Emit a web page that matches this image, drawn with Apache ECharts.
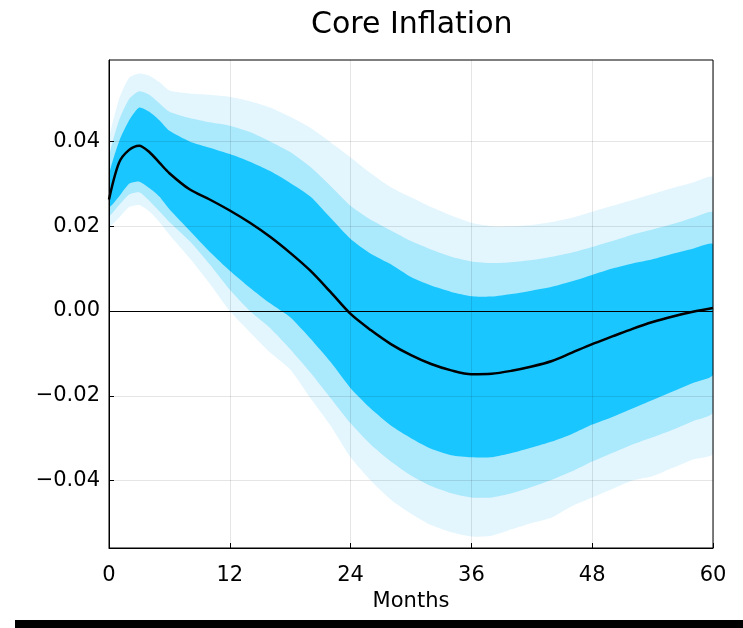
<!DOCTYPE html>
<html><head><meta charset="utf-8">
<script src="https://cdn.jsdelivr.net/npm/echarts@6/dist/echarts.min.js"></script>
<style>html,body{margin:0;padding:0;background:#fff}#c{width:743px;height:628px}</style>
</head><body><div id="c"></div>
<script>
const months = [0,1,2,3,4,5,6,8,10,12,14,16,18,20,22,24,26,28,30,32,34,36,38,40,42,44,46,48,50,52,54,56,58,60];
const median = [0.0263,0.0350,0.0380,0.0390,0.0375,0.0350,0.0325,0.0287,0.0263,0.0237,0.0208,0.0175,0.0137,0.0095,0.0045,-0.0007,-0.0045,-0.0078,-0.0104,-0.0125,-0.0140,-0.0149,-0.0148,-0.0141,-0.0131,-0.0118,-0.0098,-0.0078,-0.0060,-0.0042,-0.0026,-0.0013,-0.0002,0.0007];
const lightUpper = [0.040,0.050,0.055,0.056,0.0555,0.054,0.052,0.0513,0.051,0.0505,0.0495,0.0480,0.0458,0.0432,0.0398,0.0362,0.0325,0.0292,0.0268,0.0245,0.0225,0.0208,0.0200,0.0200,0.0203,0.0210,0.0220,0.0234,0.0248,0.0262,0.0276,0.0290,0.0303,0.0315];
const mediumUpper = [0.036,0.045,0.050,0.0518,0.051,0.049,0.047,0.0455,0.0445,0.0437,0.0422,0.0400,0.0375,0.0340,0.0295,0.0248,0.0215,0.0190,0.0165,0.0145,0.0128,0.0117,0.0113,0.0115,0.0120,0.0128,0.0138,0.0151,0.0165,0.0180,0.0192,0.0205,0.0220,0.0232];
const darkUpper = [0.032,0.040,0.045,0.048,0.047,0.045,0.0425,0.040,0.0385,0.0370,0.0352,0.0330,0.0302,0.0270,0.0220,0.0170,0.0135,0.0110,0.0080,0.0060,0.0045,0.0035,0.0034,0.0040,0.0048,0.0057,0.0070,0.0085,0.0100,0.0112,0.0122,0.0135,0.0147,0.0157];
const darkLower = [0.0245,0.027,0.030,0.0305,0.029,0.027,0.024,0.019,0.0140,0.0095,0.0055,0.0018,-0.0015,-0.0065,-0.0120,-0.0182,-0.0230,-0.0270,-0.0300,-0.0325,-0.0340,-0.0345,-0.0345,-0.0335,-0.0322,-0.0308,-0.0290,-0.0268,-0.0250,-0.0230,-0.0210,-0.0190,-0.0170,-0.0150];
const mediumLower = [0.0225,0.025,0.0275,0.028,0.026,0.0235,0.021,0.0165,0.011,0.0050,0.0,-0.0040,-0.009,-0.0145,-0.0205,-0.0265,-0.0315,-0.0355,-0.0388,-0.0413,-0.0430,-0.0440,-0.0440,-0.0430,-0.0415,-0.0398,-0.0378,-0.0355,-0.0335,-0.0315,-0.0298,-0.0280,-0.0260,-0.0239];
const lightLower = [0.020,0.022,0.0245,0.025,0.0235,0.021,0.018,0.0125,0.0065,0.0,-0.0050,-0.0098,-0.0138,-0.0205,-0.0270,-0.0345,-0.0400,-0.0445,-0.0478,-0.0505,-0.0522,-0.0532,-0.0530,-0.0515,-0.0500,-0.0487,-0.0460,-0.0440,-0.0420,-0.0400,-0.0390,-0.0370,-0.0350,-0.0336];
const yTicks = [-0.04,-0.02,0,0.02,0.04];
const xTicks = [0,12,24,36,48,60];
const titleText = 'Core Inflation';
const xName = 'Months';

const FONT = 'DejaVu Sans';
function band(lower, upper, color, z) {
  return {
    type: 'custom', z: z, silent: true, clip: true,
    data: [[months[0], lower[0]]],
    encode: {x: 0, y: 1},
    renderItem: function (params, api) {
      const pts = [];
      for (let i = 0; i < months.length; i++) pts.push(api.coord([months[i], upper[i]]));
      for (let i = months.length - 1; i >= 0; i--) pts.push(api.coord([months[i], lower[i]]));
      return {type: 'polygon', shape: {points: pts, smooth: 0.2}, style: {fill: color}};
    }
  };
}
const chart = echarts.init(document.getElementById('c'), null, {renderer: 'canvas'});
chart.setOption({
  animation: false,
  backgroundColor: '#fff',
  graphic: [
    {type: 'text', left: 311, top: 10, z: 20,
      style: {text: titleText, fontFamily: FONT, fontSize: 30, fill: '#000'}},
    {type: 'rect', left: 15, top: 620, shape: {width: 728, height: 8}, style: {fill: '#000'}}
  ],
  grid: {left: 109, right: 30, top: 60, bottom: 80, show: true, z: 8,
    borderColor: '#000', borderWidth: 1, backgroundColor: 'transparent'},
  xAxis: {type: 'value', min: 0, max: 60, interval: 12, z: 5,
    name: xName, nameLocation: 'middle', nameGap: 39,
    nameTextStyle: {fontFamily: FONT, fontSize: 21, color: '#000'},
    axisLine: {show: true, onZero: false, lineStyle: {color: '#000'}},
    axisTick: {show: true, inside: true, length: 5, lineStyle: {color: '#000'}},
    axisLabel: {fontFamily: FONT, fontSize: 21, color: '#000', margin: 17},
    splitLine: {show: true, lineStyle: {color: 'rgba(0,0,0,0.1)', width: 1}}},
  yAxis: {type: 'value', min: -0.0559, max: 0.0592, z: 5,
    axisLine: {show: true, onZero: false, lineStyle: {color: '#000'}},
    axisTick: {show: true, inside: true, length: 5, customValues: yTicks, lineStyle: {color: '#000'}},
    axisLabel: {fontFamily: FONT, fontSize: 21, color: '#000', margin: 9, customValues: yTicks,
      formatter: v => v.toFixed(2).replace('-', '\u2212')},
    splitLine: {show: true, lineStyle: {color: 'rgba(0,0,0,0.1)', width: 1}}},
  series: [
    band(lightLower, lightUpper, '#e3f6fe', 2),
    band(mediumLower, mediumUpper, '#abe9fd', 3),
    band(darkLower, darkUpper, '#19c6ff', 4),
    {type: 'line', z: 10, data: months.map((m, i) => [m, median[i]]), smooth: 0.3,
      symbol: 'none', lineStyle: {color: '#000', width: 2.5}, silent: true,
      markLine: {silent: true, symbol: 'none', label: {show: false},
        lineStyle: {color: '#000', width: 1.2, type: 'solid'}, data: [{yAxis: 0}]}}
  ]
});
</script></body></html>
